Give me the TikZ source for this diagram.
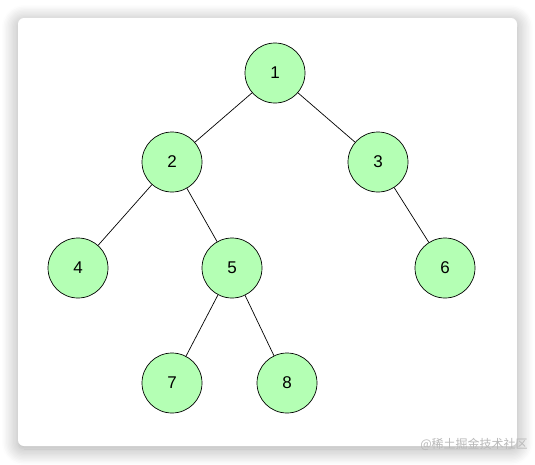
\documentclass[tikz,border=0pt]{standalone}
\usepackage{fontspec}
\setmainfont{Liberation Sans}
\newfontfamily\cjk{Noto Sans CJK SC}
\usetikzlibrary{shadows.blur}
\definecolor{ngrn} {RGB}{180,255,180}
\definecolor{wgray}{RGB}{185,185,185}
\tikzset{
  % Green tree node
  TN/.style={circle,draw=black,fill=ngrn,minimum size=60pt,inner sep=0pt,
             line width=0.7pt,font=\fontsize{17}{20}\selectfont},
  % Plain edge
  Edg/.style={line width=0.7pt,color=black},
}
\begin{document}
\begin{tikzpicture}[x=1pt,y=-1pt]
  \useasboundingbox (0,0) rectangle (535,464);
  % card with shadow
  \fill[white,rounded corners=6pt,
        blur shadow={shadow xshift=0pt,shadow yshift=-3pt,
                     shadow blur radius=16pt,shadow blur steps=12,
                     shadow opacity=35}]
        (18,18) rectangle (517,446);
  % nodes
  \node[TN] (n1) at (275,73)  {1};
  \node[TN] (n2) at (172,162) {2};
  \node[TN] (n3) at (378,162) {3};
  \node[TN] (n4) at (78,268)  {4};
  \node[TN] (n5) at (232,268) {5};
  \node[TN] (n6) at (445,268) {6};
  \node[TN] (n7) at (172,383) {7};
  \node[TN] (n8) at (287,383) {8};
  % edges
  \draw[Edg] (n1) -- (n2);
  \draw[Edg] (n1) -- (n3);
  \draw[Edg] (n2) -- (n4);
  \draw[Edg] (n2) -- (n5);
  \draw[Edg] (n3) -- (n6);
  \draw[Edg] (n5) -- (n7);
  \draw[Edg] (n5) -- (n8);
  % watermark
  \node[font=\cjk\fontsize{12}{14}\selectfont,text=wgray] (wm) at (474,444)
       {@稀土掘金技术社区};
\end{tikzpicture}
\end{document}
